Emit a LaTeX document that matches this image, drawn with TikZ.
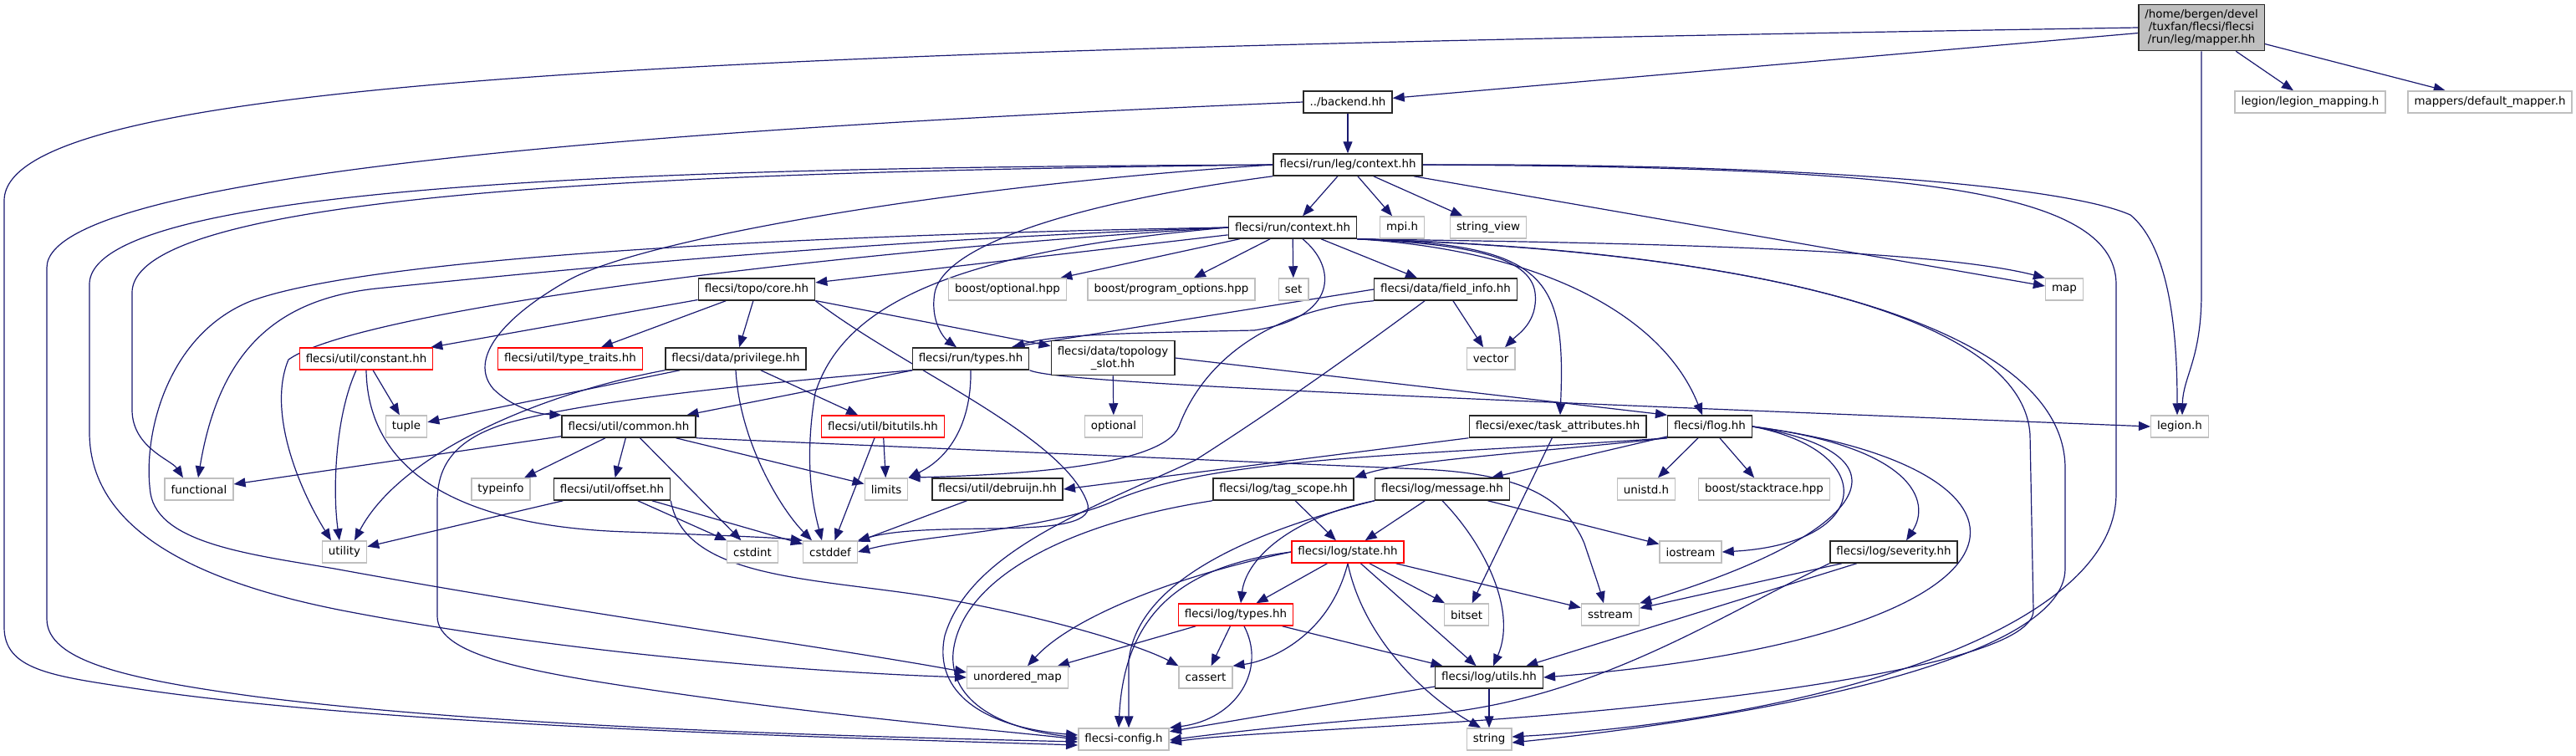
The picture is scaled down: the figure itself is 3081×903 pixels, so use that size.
\documentclass[tikz,border=0pt]{standalone}
\usepackage{fontspec}
\setmainfont{DejaVu Sans}
\usetikzlibrary{arrows.meta}
\definecolor{edgeblue}{RGB}{25,25,112}
\definecolor{greyline}{RGB}{191,191,191}
\definecolor{rootgrey}{RGB}{191,191,191}
\definecolor{ink}{RGB}{40,40,40}
\definecolor{cutred}{RGB}{255,0,0}
\pgfdeclarelayer{wires}
\pgfsetlayers{wires,main}

\begin{document}
\begin{tikzpicture}[x=1pt,y=-1pt,
    hdr/.style={draw,line width=1.5pt,fill=white,minimum height=26pt,inner xsep=7.5pt,inner ysep=1pt,
      font=\fontsize{13.4}{15}\selectfont,align=center},
    docbox/.style={hdr,draw=ink},
    sysbox/.style={hdr,draw=greyline},
    cutbox/.style={hdr,draw=cutred},
    rootbox/.style={hdr,draw=ink,fill=rootgrey,minimum height=55pt},
    incl/.style={draw=edgeblue,line width=1.2pt,-{Triangle[length=14pt,width=11pt]}}]
  \useasboundingbox (0,0) rectangle (3081,903);

  \node[rootbox] (mapper) at (2633,33) {/home/bergen/devel\\/tuxfan/flecsi/flecsi\\/run/leg/mapper.hh};
  \node[docbox,minimum height=41pt] (topslot) at (1331,428) {flecsi/data/topology\\\_slot.hh};
  \foreach \n/\x/\y/\lbl in {backend/1612/122/{../backend.hh},legctx/1612/197/{flecsi/run/leg/context.hh},
      runctx/1546/272/{flecsi/run/context.hh},topocore/905/346/{flecsi/topo/core.hh},
      fieldinfo/1729/346/{flecsi/data/field\_info.hh},privilege/880/429/{flecsi/data/privilege.hh},
      runtypes/1161/429/{flecsi/run/types.hh},common/752/510/{flecsi/util/common.hh},
      taskattr/1863/510/{flecsi/exec/task\_attributes.hh},flog/2045/510/{flecsi/flog.hh},
      offset/732/585/{flecsi/util/offset.hh},debruijn/1193/585/{flecsi/util/debruijn.hh},
      tagscope/1535/585/{flecsi/log/tag\_scope.hh},message/1725/585/{flecsi/log/message.hh},
      severity/2265/660/{flecsi/log/severity.hh},logutils/1781/810/{flecsi/log/utils.hh}}
    \node[docbox] (\n) at (\x,\y) {\lbl};
  \foreach \n/\x/\y/\lbl in {constant/438/429/{flecsi/util/constant.hh},typetraits/682/429/{flecsi/util/type\_traits.hh},
      bitutils/1056/510/{flecsi/util/bitutils.hh},logstate/1612/660/{flecsi/log/state.hh},
      logtypes/1478/735/{flecsi/log/types.hh}}
    \node[cutbox] (\n) at (\x,\y) {\lbl};
  \foreach \n/\x/\y/\lbl in {legmap/2763/122/{legion/legion\_mapping.h},defmap/2978/122/{mappers/default\_mapper.h},
      mpih/1677/272/{mpi.h},strview/1780/272/{string\_view},boostopt/1205/346/{boost/optional.hpp},
      progopt/1401/346/{boost/program\_options.hpp},hset/1547/346/{set},hmap/2469/346/{map},
      vector/1783/429/{vector},tuple/486/510/{tuple},optional/1332/510/{optional},legionh/2607/510/{legion.h},
      functional/238/585/{functional},typeinfo/599/585/{typeinfo},limits/1060/585/{limits},
      unistd/1969/585/{unistd.h},stacktrace/2110/585/{boost/stacktrace.hpp},utility/412/660/{utility},
      cstdint/900/660/{cstdint},cstddef/993/660/{cstddef},iostream/2022/660/{iostream},
      bitset/1754/735/{bitset},sstream/1926/735/{sstream},umap/1217/810/{unordered\_map},
      cassert/1442/810/{cassert},config/1344/884/{flecsi-config.h},hstring/1781/884/{string}}
    \node[sysbox] (\n) at (\x,\y) {\lbl};

  \begin{pgfonlayer}{wires}
    \foreach \a/\b in {mapper/backend,mapper/legmap,mapper/defmap,backend/legctx,
        legctx/runctx,legctx/mpih,legctx/strview,legctx/hmap,
        runctx/topocore,runctx/boostopt,runctx/progopt,runctx/hset,runctx/fieldinfo,
        topocore/constant,topocore/typetraits,topocore/privilege,topocore/topslot,
        privilege/tuple,privilege/bitutils,constant/tuple,runtypes/common,topslot/optional,
        fieldinfo/vector,common/functional,common/typeinfo,common/offset,common/limits,common/cstdint,
        offset/utility,offset/cstdint,offset/cstddef,bitutils/limits,debruijn/cstddef,
        taskattr/bitset,flog/message,flog/unistd,flog/stacktrace,
        message/logstate,message/iostream,tagscope/logstate,
        logstate/logtypes,logstate/bitset,logstate/sstream,logstate/logutils,
        logtypes/umap,logtypes/cassert,logtypes/logutils,
        severity/sstream,severity/logutils,logutils/hstring,logutils/config}
      \draw[incl] (\a) -- (\b);

    % long ones round the left edge
    \draw[incl] (mapper.west) .. controls (900,60) and (5,90) .. (5,240) -- (5,750)
      .. controls (5,800) and (60,808) .. (153,822) .. controls (450,868) and (1000,882) .. ([yshift=-7pt]config.west);
    \draw[incl] (backend.west) .. controls (900,150) and (56,200) .. (56,320) -- (56,740)
      .. controls (56,790) and (150,812) .. (306,833) .. controls (600,870) and (1000,880) .. ([yshift=-3pt]config.west);
    \draw[incl] (legctx.west) .. controls (900,200) and (107,212) .. (107,340) -- (107,517)
      .. controls (107,640) and (250,700) .. (420,732) .. controls (700,785) and (1000,805) .. (umap.west);
    \draw[incl] (legctx.west) .. controls (900,205) and (158,222) .. (158,350) -- (158,490)
      .. controls (158,535) and (205,550) .. ([xshift=-19pt]functional.north);
    \draw[incl] (legctx.west) .. controls (1100,225) and (760,290) .. (680,335) .. controls (600,380) and (560,430) .. (590,465)
      .. controls (610,485) and (640,495) .. (common.north west);
    \draw[incl] (legctx.south west) .. controls (1300,240) and (1130,290) .. (1118,350)
      .. controls (1112,385) and (1130,405) .. ([xshift=-17pt]runtypes.north);
    \draw[incl] (runctx.west) .. controls (1000,280) and (450,305) .. (300,360) .. controls (200,400) and (170,520) .. (180,590)
      .. controls (190,650) and (300,663) .. (400,680) .. controls (700,735) and (1000,775) .. ([yshift=6pt]umap.west);
    \draw[incl] (runctx.west) .. controls (1000,288) and (600,330) .. (450,345)
      .. controls (330,358) and (262,420) .. ([xshift=-1pt]functional.north);
    \draw[incl] (runctx.west) .. controls (1000,300) and (430,370) .. (345,430)
      .. controls (320,490) and (355,580) .. ([xshift=-16pt]utility.north);
    \draw[incl] (runctx.west) .. controls (1150,300) and (1010,360) .. (975,470)
      .. controls (960,560) and (975,615) .. ([xshift=-10pt]cstddef.north);
    \draw[incl] ([xshift=12pt]runctx.south) .. controls (1600,320) and (1600,380) .. (1500,395)
      .. controls (1350,398) and (1260,400) .. ([xshift=-20pt]runtypes.north east);

    % the right hand side
    \draw[incl] (mapper.south) -- (2633,350) .. controls (2633,430) and (2611,450) .. ([xshift=3pt]legionh.north);
    \draw[incl] (legctx.east) .. controls (2150,195) and (2470,222) .. (2548,257)
      .. controls (2600,300) and (2604,420) .. ([xshift=-3pt]legionh.north);
    \draw[incl] (legctx.east) .. controls (2250,200) and (2531,220) .. (2531,340) -- (2531,590)
      .. controls (2531,760) and (2150,862) .. ([yshift=3pt]hstring.east);
    \draw[incl] (runctx.south east) .. controls (1900,290) and (2300,295) .. (hmap.north west);
    \draw[incl] (runctx.south east) .. controls (1750,292) and (1830,305) .. (1836,350)
      .. controls (1840,385) and (1815,400) .. ([xshift=17pt]vector.north);
    \draw[incl] (runctx.south east) .. controls (1850,292) and (1873,330) .. ([xshift=3pt]taskattr.north);
    \draw[incl] (runctx.south east) .. controls (1850,300) and (1990,380) .. ([xshift=-9pt]flog.north);
    \draw[incl] (runctx.south east) .. controls (2100,300) and (2420,380) .. (2428,520) -- (2432,730)
      .. controls (2432,800) and (2000,848) .. (1700,866) .. controls (1550,875) and (1450,880) .. ([yshift=-4pt]config.east);
    \draw[incl] (runctx.south east) .. controls (2150,300) and (2470,400) .. (2470,560) -- (2470,680)
      .. controls (2470,790) and (2100,858) .. ([yshift=-4pt]hstring.east);

    % middle
    \draw[incl] (fieldinfo.west) -- ([xshift=-22pt]runtypes.north east);
    \draw[incl] (fieldinfo.south west) .. controls (1520,370) and (1440,430) .. (1410,510)
      .. controls (1390,560) and (1200,568) .. (limits.north east);
    \draw[incl] ([xshift=-25pt]fieldinfo.south) .. controls (1650,400) and (1540,480) .. (1430,550)
      .. controls (1300,610) and (1160,660) .. (1130,760) .. controls (1115,830) and (1180,870) .. ([yshift=5pt]config.west);
    \draw[incl] (runtypes.south) .. controls (1162,500) and (1140,545) .. (limits.north east);
    \draw[incl] (runtypes.south east) .. controls (1260,455) and (1500,468) .. (legionh.west);
    \draw[incl] (runtypes.south west) .. controls (950,455) and (720,475) .. (610,505) .. controls (540,525) and (523,560) .. (523,600)
      -- (523,737) .. controls (523,785) and (640,805) .. (800,828) .. controls (1000,857) and (1200,874) .. (config.west);
    \draw[incl] (topslot.east) -- (flog.north west);
    \draw[incl] (topocore.south east) .. controls (1080,440) and (1270,520) .. (1300,600)
      .. controls (1320,650) and (1120,620) .. (cstddef.north east);
    \draw[incl] (privilege.south west) .. controls (650,470) and (480,540) .. ([xshift=12pt]utility.north);
    \draw[incl] (privilege.south) .. controls (885,530) and (935,610) .. ([xshift=-22pt]cstddef.north);
    \draw[incl] ([xshift=-12pt]constant.south) .. controls (400,500) and (398,590) .. ([xshift=-6pt]utility.north);
    \draw[incl] (constant.south) .. controls (440,570) and (560,630) .. (750,636)
      .. controls (860,640) and (930,643) .. (cstddef.north west);
    \draw[incl] ([xshift=-10pt]bitutils.south) -- (cstddef);
    \draw[incl] (offset.south east) .. controls (820,700) and (1000,690) .. (1150,720)
      .. controls (1280,745) and (1370,775) .. (cassert.north west);
    \draw[incl] (common.south east) -- (1700,561) .. controls (1810,566) and (1870,590) .. (1895,650)
      .. controls (1905,680) and (1912,700) .. ([xshift=-8pt]sstream.north);
    \draw[incl] (taskattr.south west) -- (debruijn.east);

    % log headers
    \draw[incl] (flog.south west) .. controls (1850,540) and (1680,550) .. (tagscope.north east);
    \draw[incl] (flog.south west) .. controls (1700,545) and (1450,545) .. (1330,600)
      .. controls (1250,635) and (1100,640) .. (cstddef.east);
    \draw[incl] (flog.east) .. controls (2250,540) and (2240,650) .. (iostream.east);
    \draw[incl] (flog.east) .. controls (2300,545) and (2230,640) .. (sstream.north east);
    \draw[incl] (flog.east) .. controls (2290,535) and (2310,600) .. ([xshift=15pt]severity.north);
    \draw[incl] (flog.east) .. controls (2480,560) and (2470,760) .. (logutils.east);
    \draw[incl] (message.south west) .. controls (1540,620) and (1490,670) .. ([xshift=6pt]logtypes.north);
    \draw[incl] (message.south west) .. controls (1480,640) and (1360,700) .. (1350,790) -- ([xshift=6pt]config.north);
    \draw[incl] (message.south) .. controls (1775,650) and (1815,730) .. ([xshift=5pt]logutils.north);
    \draw[incl] (tagscope.south west) .. controls (1280,625) and (1150,690) .. (1140,780)
      .. controls (1135,840) and (1200,872) .. ([yshift=2pt]config.west);
    \draw[incl] (logstate.west) .. controls (1400,690) and (1280,740) .. ([xshift=12pt]umap.north);
    \draw[incl] (logstate.west) .. controls (1430,675) and (1345,720) .. ([xshift=-6pt]config.north);
    \draw[incl] (logstate.south) .. controls (1590,760) and (1520,790) .. (cassert.north east);
    \draw[incl] (logstate.south) .. controls (1630,760) and (1700,830) .. ([xshift=-10pt]hstring.north);
    \draw[incl] ([xshift=10pt]logtypes.south) .. controls (1515,800) and (1480,860) .. (config.north east);
    \draw[incl] (severity.south west) .. controls (2050,740) and (1900,840) .. (1700,855)
      .. controls (1550,866) and (1450,878) .. ([yshift=-1pt]config.east);
  \end{pgfonlayer}
\end{tikzpicture}
\end{document}
